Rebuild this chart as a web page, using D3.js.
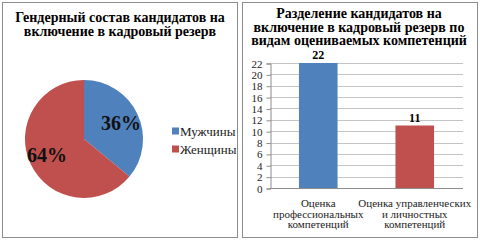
<!DOCTYPE html>
<html>
<head>
<meta charset="utf-8">
<script src="https://cdn.jsdelivr.net/npm/d3@7"></script>
</head>
<body style="margin:0; background:#fff">
<div id="chart-area"></div>
<script>
// pie data
const pieLabels = ["Мужчины", "Женщины"];
const pieValues = [36, 64];
const pieColors = ["#4F81BD", "#C0504D"];

// bar data
const barCategories = [
    ["Оценка", "профессиональных", "компетенций"],
    ["Оценка управленческих", "и личностных", "компетенций"]
];
const barValues = [22, 11];
const barColors = ["#4F81BD", "#C0504D"];
const yTicks = [0, 2, 4, 6, 8, 10, 12, 14, 16, 18, 20, 22];

const FONT = "Times New Roman, serif";
const full_width = 480, full_height = 245;

const svg = d3.select("#chart-area")
    .append("svg")
    .attr("width", full_width)
    .attr("height", full_height);

// panel frames
svg.append("rect")
    .attr("x", 2.5).attr("y", 2.5)
    .attr("width", 235).attr("height", 235)
    .attr("fill", "none").attr("stroke", "#8c8c8c");
svg.append("rect")
    .attr("x", 242.5).attr("y", 2.5)
    .attr("width", 235).attr("height", 235)
    .attr("fill", "none").attr("stroke", "#8c8c8c");

// ---------- pie ----------
const pieTitle = ["Гендерный состав кандидатов на", "включение в кадровый резерв"];
pieTitle.forEach((t, i) => {
    svg.append("text")
        .attr("x", 120)
        .attr("y", 22 + i * 14)
        .attr("text-anchor", "middle")
        .attr("font-family", FONT)
        .attr("font-size", "14px")
        .attr("font-weight", "bold")
        .text(t);
});

const radius = 59;
const cx = 84, cy = 139;

const pie = d3.pie().sort(null).value(d => d);
const arc = d3.arc().innerRadius(0).outerRadius(radius);
const arcs = pie(pieValues);

svg.selectAll("path.slice")
    .data(arcs)
    .enter().append("path")
        .attr("class", "slice")
        .attr("transform", "translate(" + cx + "," + cy + ")")
        .attr("d", arc)
        .attr("fill", (d, i) => pieColors[i]);

const labelArc = d3.arc().innerRadius(radius * 0.62).outerRadius(radius * 0.62);
const labelShift = [[4, 0], [-4, 0]];
arcs.forEach((d, i) => {
    const c = labelArc.centroid(d);
    svg.append("text")
        .attr("x", cx + c[0] + labelShift[i][0])
        .attr("y", cy + c[1] + labelShift[i][1])
        .attr("dy", "0.35em")
        .attr("text-anchor", "middle")
        .attr("font-family", FONT)
        .attr("font-size", "20px")
        .attr("font-weight", "bold")
        .attr("fill", "#111")
        .text(d.data + "%");
});

// legend
pieLabels.forEach((lab, i) => {
    svg.append("rect")
        .attr("x", 172).attr("y", 131 + i * 18 - 3.5)
        .attr("width", 7).attr("height", 7)
        .attr("fill", pieColors[i]);
    svg.append("text")
        .attr("x", 180).attr("y", 131 + i * 18)
        .attr("dy", "0.35em")
        .attr("font-family", FONT)
        .attr("font-size", "13px")
        .attr("fill", "#222")
        .text(lab);
});

// ---------- bars ----------
const barTitle = ["Разделение кандидатов на", "включение в кадровый резерв по", "видам оцениваемых компетенций"];
barTitle.forEach((t, i) => {
    svg.append("text")
        .attr("x", 359)
        .attr("y", 18 + i * 13.5)
        .attr("text-anchor", "middle")
        .attr("font-family", FONT)
        .attr("font-size", "14px")
        .attr("font-weight", "bold")
        .text(t);
});

const plot = { left: 270, right: 463, top: 63, bottom: 188 };

const x = d3.scaleBand()
    .domain(d3.range(barValues.length))
    .range([plot.left, plot.right])
    .paddingInner(0.6)
    .paddingOuter(0.3);

const y = d3.scaleLinear()
    .domain([0, 22])
    .range([plot.bottom, plot.top]);

// grid
svg.append("g").selectAll("line")
    .data(yTicks.slice(1))
    .enter().append("line")
        .attr("x1", plot.left).attr("x2", plot.right)
        .attr("y1", d => Math.round(y(d)) + 0.5)
        .attr("y2", d => Math.round(y(d)) + 0.5)
        .attr("stroke", "#c4c4c4");

const yAxisCall = d3.axisLeft(y)
    .tickValues(yTicks)
    .tickSize(4)
    .tickPadding(4);
const yAxis = svg.append("g")
    .attr("class", "y-axis")
    .attr("transform", "translate(" + (plot.left + 0.5) + ", 0.5)")
    .call(yAxisCall)
    .attr("font-family", FONT)
    .attr("font-size", "11px");
yAxis.select(".domain").attr("stroke", "#8c8c8c");
yAxis.selectAll(".tick line").attr("stroke", "#8c8c8c");
yAxis.selectAll(".tick text")
    .attr("font-family", FONT)
    .attr("font-size", "11px")
    .attr("fill", "#222");

// x axis line
svg.append("line")
    .attr("x1", plot.left).attr("x2", plot.right)
    .attr("y1", plot.bottom + 0.5).attr("y2", plot.bottom + 0.5)
    .attr("stroke", "#8c8c8c");

svg.selectAll("rect.bar")
    .data(barValues)
    .enter().append("rect")
        .attr("class", "bar")
        .attr("x", (d, i) => x(i))
        .attr("y", d => y(d))
        .attr("width", x.bandwidth())
        .attr("height", d => plot.bottom - y(d))
        .attr("fill", (d, i) => barColors[i]);

barValues.forEach((v, i) => {
    svg.append("text")
        .attr("x", x(i) + x.bandwidth() / 2)
        .attr("y", y(v) - 4)
        .attr("text-anchor", "middle")
        .attr("font-family", FONT)
        .attr("font-size", "12px")
        .attr("font-weight", "bold")
        .text(v);
});

barCategories.forEach((lines, i) => {
    lines.forEach((t, j) => {
        svg.append("text")
            .attr("x", x(i) + x.bandwidth() / 2)
            .attr("y", 207 + j * 10.5)
            .attr("text-anchor", "middle")
            .attr("font-family", FONT)
            .attr("font-size", "11px")
            .attr("fill", "#222")
            .text(t);
    });
});
</script>
</body>
</html>
